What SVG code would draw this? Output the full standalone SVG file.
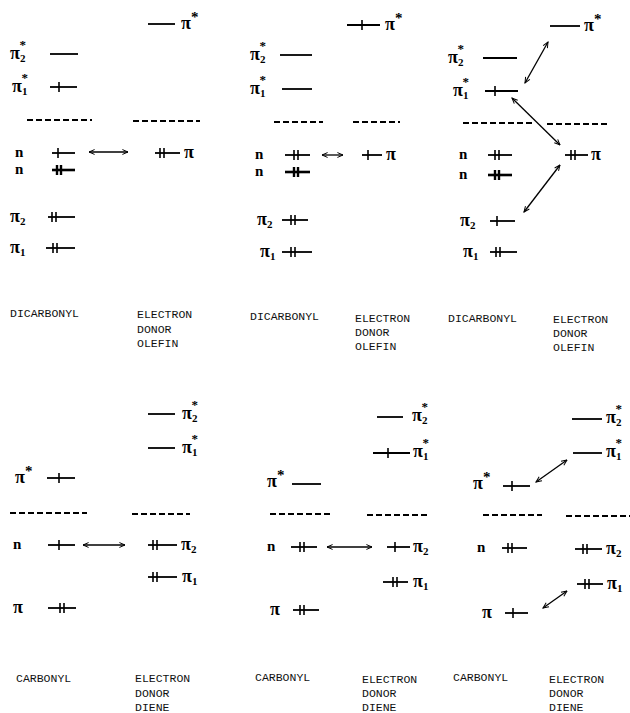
<svg xmlns="http://www.w3.org/2000/svg" width="630" height="713" viewBox="0 0 630 713">
<defs>
<marker id="ah" viewBox="0 0 10 10" refX="9" refY="5" markerWidth="7" markerHeight="7" markerUnits="userSpaceOnUse" orient="auto-start-reverse">
<path d="M1,1.5 L9,5 L1,8.5" fill="none" stroke="#000" stroke-width="1.4"/>
</marker>
<style>
.lv{stroke:#000;stroke-width:1.8;fill:none}
.e{stroke:#000;stroke-width:1.6}
.eb{stroke:#000;stroke-width:2.4}
.lvb{stroke:#000;stroke-width:2.6}
.dash{stroke:#000;stroke-width:2;stroke-dasharray:6 3}
.arr{stroke:#000;stroke-width:1.3;fill:none;marker-start:url(#ah);marker-end:url(#ah)}
.lab{font-family:"Liberation Serif","DejaVu Serif",serif;font-size:18px;font-weight:bold;fill:#000}
.nl{font-family:"Liberation Serif","DejaVu Serif",serif;font-size:15px;font-weight:bold;fill:#000}
.sub{font-size:11px}
.sup{font-size:15px}
.sup2{font-size:13px}
.cap{font-family:"Liberation Mono","DejaVu Sans Mono",monospace;font-size:11.5px;fill:#111}
</style>
</defs>
<rect width="630" height="713" fill="#fff"/>

<!-- ================= Panel 1 ================= -->
<g id="p1-donor-pistar"><line class="lv" x1="148" y1="24" x2="175" y2="24"/><text class="lab" x="181" y="29">π<tspan class="sup" dy="-7">*</tspan></text></g>
<g id="p1-pi2star"><text class="lab" x="10" y="59">π<tspan class="sub" dy="3">2</tspan><tspan class="sup2" dx="-6" dy="-13">*</tspan></text><line class="lv" x1="50" y1="54" x2="78" y2="54"/></g>
<g id="p1-pi1star"><text class="lab" x="12" y="92">π<tspan class="sub" dy="3">1</tspan><tspan class="sup2" dx="-6" dy="-13">*</tspan></text><line class="lv" x1="50" y1="87" x2="77" y2="87"/><line class="e" x1="59" y1="82" x2="59" y2="92"/></g>
<g id="p1-sep"><line class="dash" x1="27" y1="120" x2="92" y2="120"/><line class="dash" x1="133" y1="121" x2="200" y2="121"/></g>
<g id="p1-n1"><text class="nl" x="15" y="157">n</text><line class="lv" x1="52" y1="153" x2="75" y2="153"/><line class="e" x1="58" y1="148" x2="58" y2="158"/></g>
<g id="p1-donor-pi"><line class="lv" x1="155" y1="153" x2="180" y2="153"/><line class="e" x1="160" y1="148" x2="160" y2="158"/><line class="e" x1="164" y1="148" x2="164" y2="158"/><text class="lab" x="184" y="158">π</text></g>
<g id="p1-n2"><text class="nl" x="15" y="174">n</text><line class="lvb" x1="52" y1="170" x2="75" y2="170"/><line class="eb" x1="57" y1="165" x2="57" y2="175"/><line class="eb" x1="61" y1="165" x2="61" y2="175"/></g>
<g id="p1-pi2"><text class="lab" x="10" y="222">π<tspan class="sub" dy="3">2</tspan></text><line class="lv" x1="48" y1="217" x2="75" y2="217"/><line class="e" x1="52" y1="212" x2="52" y2="222"/><line class="e" x1="56" y1="212" x2="56" y2="222"/></g>
<g id="p1-pi1"><text class="lab" x="10" y="253">π<tspan class="sub" dy="3">1</tspan></text><line class="lv" x1="46" y1="248" x2="75" y2="248"/><line class="e" x1="53" y1="243" x2="53" y2="253"/><line class="e" x1="57" y1="243" x2="57" y2="253"/></g>
<g id="p1-caps"><text class="cap" x="10" y="317">DICARBONYL</text><text class="cap" x="137" y="318">ELECTRON</text><text class="cap" x="137" y="333">DONOR</text><text class="cap" x="137" y="347">OLEFIN</text></g>

<!-- ================= Panel 2 ================= -->
<g id="p2-donor-pistar"><line class="lv" x1="347" y1="25" x2="380" y2="25"/><line class="e" x1="362" y1="20" x2="362" y2="30"/><text class="lab" x="385" y="30">π<tspan class="sup" dy="-7">*</tspan></text></g>
<g id="p2-pi2star"><text class="lab" x="250" y="60">π<tspan class="sub" dy="3">2</tspan><tspan class="sup2" dx="-6" dy="-13">*</tspan></text><line class="lv" x1="280" y1="55" x2="312" y2="55"/></g>
<g id="p2-pi1star"><text class="lab" x="250" y="94">π<tspan class="sub" dy="3">1</tspan><tspan class="sup2" dx="-6" dy="-13">*</tspan></text><line class="lv" x1="282" y1="89" x2="312" y2="89"/></g>
<g id="p2-sep"><line class="dash" x1="274" y1="122" x2="323" y2="122"/><line class="dash" x1="353" y1="122" x2="400" y2="122"/></g>
<g id="p2-n1"><text class="nl" x="255" y="159">n</text><line class="lv" x1="285" y1="155" x2="310" y2="155"/><line class="e" x1="294" y1="150" x2="294" y2="160"/><line class="e" x1="298" y1="150" x2="298" y2="160"/></g>
<g id="p2-donor-pi"><line class="lv" x1="362" y1="155" x2="382" y2="155"/><line class="e" x1="368" y1="150" x2="368" y2="160"/><text class="lab" x="386" y="160">π</text></g>
<g id="p2-n2"><text class="nl" x="255" y="176">n</text><line class="lvb" x1="285" y1="172" x2="310" y2="172"/><line class="eb" x1="294" y1="167" x2="294" y2="177"/><line class="eb" x1="298" y1="167" x2="298" y2="177"/></g>
<g id="p2-pi2"><text class="lab" x="257" y="225">π<tspan class="sub" dy="3">2</tspan></text><line class="lv" x1="282" y1="220" x2="308" y2="220"/><line class="e" x1="291" y1="215" x2="291" y2="225"/><line class="e" x1="295" y1="215" x2="295" y2="225"/></g>
<g id="p2-pi1"><text class="lab" x="260" y="257">π<tspan class="sub" dy="3">1</tspan></text><line class="lv" x1="282" y1="252" x2="312" y2="252"/><line class="e" x1="291" y1="247" x2="291" y2="257"/><line class="e" x1="295" y1="247" x2="295" y2="257"/></g>
<g id="p2-caps"><text class="cap" x="250" y="320">DICARBONYL</text><text class="cap" x="355" y="322">ELECTRON</text><text class="cap" x="355" y="336">DONOR</text><text class="cap" x="355" y="350">OLEFIN</text></g>

<!-- ================= Panel 3 ================= -->
<g id="p3-donor-pistar"><line class="lv" x1="550" y1="26" x2="580" y2="26"/><text class="lab" x="584" y="31">π<tspan class="sup" dy="-7">*</tspan></text></g>
<g id="p3-pi2star"><text class="lab" x="448" y="63">π<tspan class="sub" dy="3">2</tspan><tspan class="sup2" dx="-6" dy="-13">*</tspan></text><line class="lv" x1="483" y1="58" x2="517" y2="58"/></g>
<g id="p3-pi1star"><text class="lab" x="453" y="96">π<tspan class="sub" dy="3">1</tspan><tspan class="sup2" dx="-6" dy="-13">*</tspan></text><line class="lv" x1="485" y1="91" x2="518" y2="91"/><line class="e" x1="495" y1="86" x2="495" y2="96"/></g>
<g id="p3-sep"><line class="dash" x1="463" y1="123" x2="532" y2="123"/><line class="dash" x1="547" y1="124" x2="607" y2="124"/></g>
<g id="p3-n1"><text class="nl" x="459" y="159">n</text><line class="lv" x1="488" y1="155" x2="512" y2="155"/><line class="e" x1="495" y1="150" x2="495" y2="160"/><line class="e" x1="499" y1="150" x2="499" y2="160"/></g>
<g id="p3-donor-pi"><line class="lv" x1="565" y1="155" x2="588" y2="155"/><line class="e" x1="571" y1="150" x2="571" y2="160"/><line class="e" x1="575" y1="150" x2="575" y2="160"/><text class="lab" x="591" y="160">π</text></g>
<g id="p3-n2"><text class="nl" x="459" y="179">n</text><line class="lvb" x1="488" y1="175" x2="512" y2="175"/><line class="eb" x1="495" y1="170" x2="495" y2="180"/><line class="eb" x1="499" y1="170" x2="499" y2="180"/></g>
<g id="p3-pi2"><text class="lab" x="460" y="226">π<tspan class="sub" dy="3">2</tspan></text><line class="lv" x1="490" y1="221" x2="515" y2="221"/><line class="e" x1="497" y1="216" x2="497" y2="226"/></g>
<g id="p3-pi1"><text class="lab" x="463" y="257">π<tspan class="sub" dy="3">1</tspan></text><line class="lv" x1="490" y1="252" x2="517" y2="252"/><line class="e" x1="496" y1="247" x2="496" y2="257"/><line class="e" x1="500" y1="247" x2="500" y2="257"/></g>
<g id="p3-caps"><text class="cap" x="448" y="322">DICARBONYL</text><text class="cap" x="553" y="323">ELECTRON</text><text class="cap" x="553" y="337">DONOR</text><text class="cap" x="553" y="351">OLEFIN</text></g>

<!-- ================= Panel 4 ================= -->
<g id="p4-donor-pi2star"><line class="lv" x1="148" y1="414" x2="175" y2="414"/><text class="lab" x="182" y="419">π<tspan class="sub" dy="3">2</tspan><tspan class="sup2" dx="-6" dy="-13">*</tspan></text></g>
<g id="p4-donor-pi1star"><line class="lv" x1="148" y1="448" x2="175" y2="448"/><text class="lab" x="182" y="453">π<tspan class="sub" dy="3">1</tspan><tspan class="sup2" dx="-6" dy="-13">*</tspan></text></g>
<g id="p4-pistar"><text class="lab" x="15" y="483">π<tspan class="sup" dy="-7">*</tspan></text><line class="lv" x1="47" y1="478" x2="75" y2="478"/><line class="e" x1="59" y1="473" x2="59" y2="483"/></g>
<g id="p4-sep"><line class="dash" x1="10" y1="513" x2="87" y2="513"/><line class="dash" x1="132" y1="514" x2="190" y2="514"/></g>
<g id="p4-n"><text class="nl" x="13" y="549">n</text><line class="lv" x1="48" y1="545" x2="75" y2="545"/><line class="e" x1="59" y1="540" x2="59" y2="550"/></g>
<g id="p4-donor-pi2"><line class="lv" x1="148" y1="545" x2="177" y2="545"/><line class="e" x1="153" y1="540" x2="153" y2="550"/><line class="e" x1="157" y1="540" x2="157" y2="550"/><text class="lab" x="181" y="550">π<tspan class="sub" dy="3">2</tspan></text></g>
<g id="p4-donor-pi1"><line class="lv" x1="148" y1="577" x2="177" y2="577"/><line class="e" x1="153" y1="572" x2="153" y2="582"/><line class="e" x1="157" y1="572" x2="157" y2="582"/><text class="lab" x="182" y="582">π<tspan class="sub" dy="3">1</tspan></text></g>
<g id="p4-pi"><text class="lab" x="13" y="613">π</text><line class="lv" x1="48" y1="608" x2="76" y2="608"/><line class="e" x1="60" y1="603" x2="60" y2="613"/><line class="e" x1="64" y1="603" x2="64" y2="613"/></g>
<g id="p4-caps"><text class="cap" x="16" y="682">CARBONYL</text><text class="cap" x="135" y="682">ELECTRON</text><text class="cap" x="135" y="697">DONOR</text><text class="cap" x="135" y="711">DIENE</text></g>

<!-- ================= Panel 5 ================= -->
<g id="p5-donor-pi2star"><line class="lv" x1="377" y1="417" x2="403" y2="417"/><text class="lab" x="412" y="421">π<tspan class="sub" dy="3">2</tspan><tspan class="sup2" dx="-6" dy="-13">*</tspan></text></g>
<g id="p5-donor-pi1star"><line class="lv" x1="373" y1="453" x2="410" y2="453"/><line class="e" x1="388" y1="448" x2="388" y2="458"/><text class="lab" x="413" y="457">π<tspan class="sub" dy="3">1</tspan><tspan class="sup2" dx="-6" dy="-13">*</tspan></text></g>
<g id="p5-pistar"><text class="lab" x="267" y="487">π<tspan class="sup" dy="-7">*</tspan></text><line class="lv" x1="292" y1="484" x2="321" y2="484"/></g>
<g id="p5-sep"><line class="dash" x1="270" y1="514" x2="330" y2="514"/><line class="dash" x1="367" y1="515" x2="428" y2="515"/></g>
<g id="p5-n"><text class="nl" x="267" y="551">n</text><line class="lv" x1="291" y1="547" x2="317" y2="547"/><line class="e" x1="300" y1="542" x2="300" y2="552"/><line class="e" x1="304" y1="542" x2="304" y2="552"/></g>
<g id="p5-donor-pi2"><line class="lv" x1="387" y1="547" x2="410" y2="547"/><line class="e" x1="395" y1="542" x2="395" y2="552"/><text class="lab" x="413" y="552">π<tspan class="sub" dy="3">2</tspan></text></g>
<g id="p5-donor-pi1"><line class="lv" x1="383" y1="582" x2="408" y2="582"/><line class="e" x1="393" y1="577" x2="393" y2="587"/><line class="e" x1="397" y1="577" x2="397" y2="587"/><text class="lab" x="413" y="587">π<tspan class="sub" dy="3">1</tspan></text></g>
<g id="p5-pi"><text class="lab" x="270" y="615">π</text><line class="lv" x1="293" y1="610" x2="319" y2="610"/><line class="e" x1="300" y1="605" x2="300" y2="615"/><line class="e" x1="304" y1="605" x2="304" y2="615"/></g>
<g id="p5-caps"><text class="cap" x="255" y="681">CARBONYL</text><text class="cap" x="362" y="683">ELECTRON</text><text class="cap" x="362" y="697">DONOR</text><text class="cap" x="362" y="711">DIENE</text></g>

<!-- ================= Panel 6 ================= -->
<g id="p6-donor-pi2star"><line class="lv" x1="572" y1="419" x2="602" y2="419"/><text class="lab" x="606" y="423">π<tspan class="sub" dy="3">2</tspan><tspan class="sup2" dx="-6" dy="-13">*</tspan></text></g>
<g id="p6-donor-pi1star"><line class="lv" x1="573" y1="453" x2="602" y2="453"/><text class="lab" x="606" y="457">π<tspan class="sub" dy="3">1</tspan><tspan class="sup2" dx="-6" dy="-13">*</tspan></text></g>
<g id="p6-pistar"><text class="lab" x="473" y="489">π<tspan class="sup" dy="-7">*</tspan></text><line class="lv" x1="503" y1="486" x2="530" y2="486"/><line class="e" x1="512" y1="481" x2="512" y2="491"/></g>
<g id="p6-sep"><line class="dash" x1="483" y1="515" x2="542" y2="515"/><line class="dash" x1="566" y1="516" x2="630" y2="516"/></g>
<g id="p6-n"><text class="nl" x="477" y="552">n</text><line class="lv" x1="502" y1="548" x2="527" y2="548"/><line class="e" x1="508" y1="543" x2="508" y2="553"/><line class="e" x1="512" y1="543" x2="512" y2="553"/></g>
<g id="p6-donor-pi2"><line class="lv" x1="575" y1="549" x2="602" y2="549"/><line class="e" x1="583" y1="544" x2="583" y2="554"/><line class="e" x1="587" y1="544" x2="587" y2="554"/><text class="lab" x="606" y="554">π<tspan class="sub" dy="3">2</tspan></text></g>
<g id="p6-donor-pi1"><line class="lv" x1="577" y1="584" x2="603" y2="584"/><line class="e" x1="585" y1="579" x2="585" y2="589"/><line class="e" x1="589" y1="579" x2="589" y2="589"/><text class="lab" x="607" y="589">π<tspan class="sub" dy="3">1</tspan></text></g>
<g id="p6-pi"><text class="lab" x="482" y="618">π</text><line class="lv" x1="505" y1="613" x2="528" y2="613"/><line class="e" x1="513" y1="608" x2="513" y2="618"/></g>
<g id="p6-caps"><text class="cap" x="453" y="681">CARBONYL</text><text class="cap" x="549" y="683">ELECTRON</text><text class="cap" x="549" y="697">DONOR</text><text class="cap" x="549" y="711">DIENE</text></g>

<!-- ================= Connectors ================= -->
<g id="connectors">
<line class="arr" x1="89" y1="152" x2="128" y2="152"/>
<line class="arr" x1="322" y1="155" x2="343" y2="155"/>
<line class="arr" x1="548" y1="42" x2="525" y2="83"/>
<line class="arr" x1="512" y1="98" x2="560" y2="145"/>
<line class="arr" x1="560" y1="165" x2="524" y2="212"/>
<line class="arr" x1="83" y1="545" x2="125" y2="545"/>
<line class="arr" x1="327" y1="547" x2="372" y2="547"/>
<line class="arr" x1="567" y1="460" x2="536" y2="482"/>
<line class="arr" x1="567" y1="591" x2="543" y2="608"/>
</g>
</svg>
